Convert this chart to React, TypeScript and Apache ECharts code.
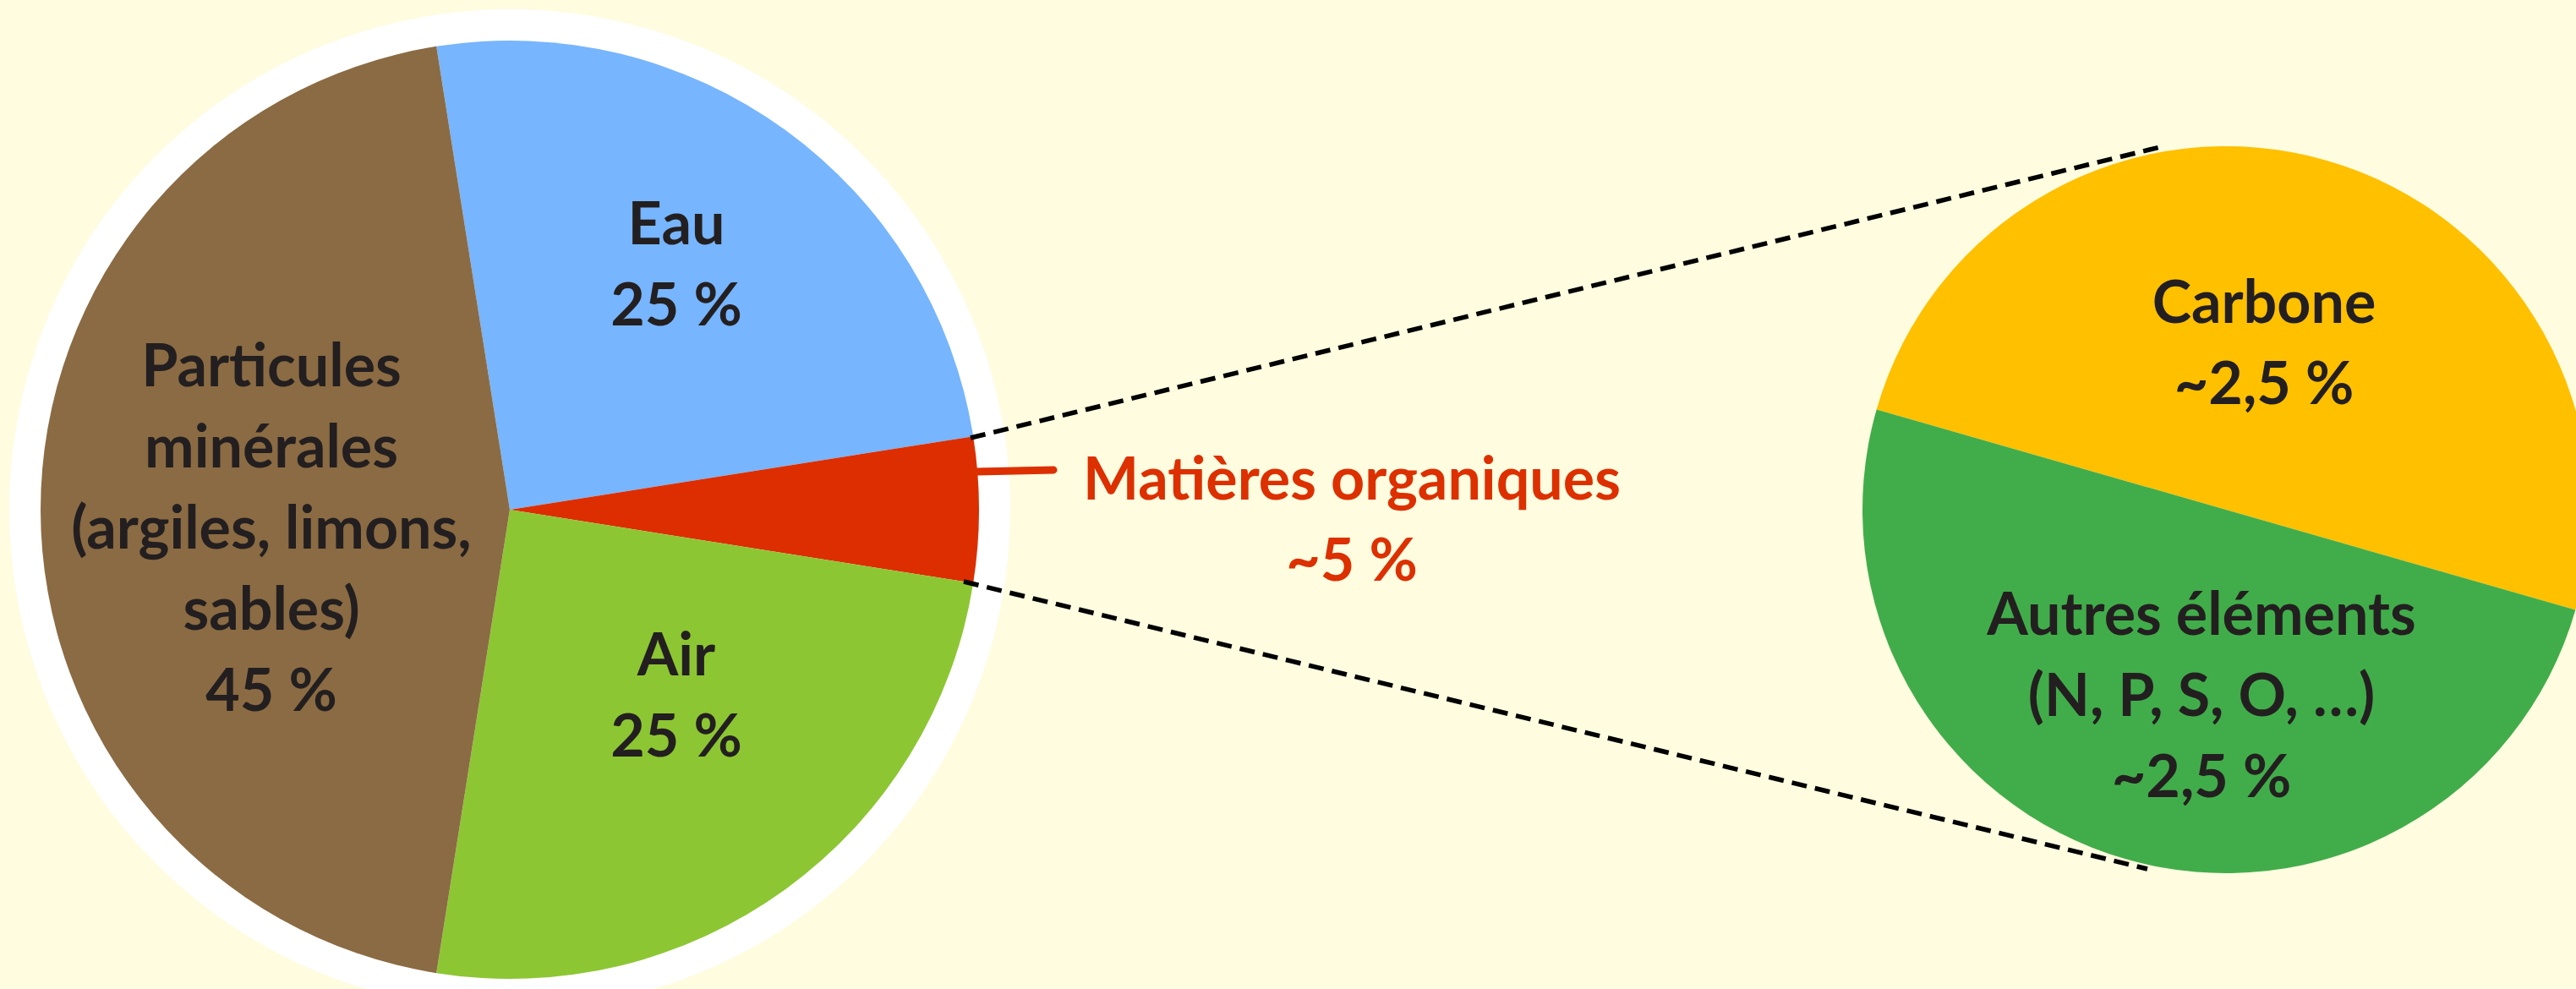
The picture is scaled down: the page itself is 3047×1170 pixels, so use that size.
import React, { useEffect, useRef } from "react";
import * as echarts from "echarts";

// ---- Data ----
const soilCategories = ["Eau", "Matières organiques", "Air", "Particules minérales (argiles, limons, sables)"];
const soilLabelNames = ["Eau", "Matières organiques", "Air", "Particules\nminérales\n(argiles, limons,\nsables)"];
const soilValues = [25, 5, 25, 45];
const soilApprox = [false, true, false, false];

const organicCategories = ["Carbone", "Autres éléments (N, P, S, O, …)"];
const organicLabelNames = ["Carbone", "Autres éléments\n(N, P, S, O, …)"];
const organicValues = [2.5, 2.5];
const organicApprox = [true, true];

// ---- Styles / layout ----
const soilColors = ["#77B5FE", "#DC2E00", "#8DC633", "#8B6B43"];
const organicColors = ["#FFC000", "#41AD4A"];
const soilLabelPos = [[800, 310], [1599, 612], [800, 820], [321, 622]];
const organicLabelPos = [[2678, 403], [2604, 820]];
const BG = "#FFFCDF";
const TEXT = "#231F20";
const FONT = "Lato";

const fmt = (v: number, approx: boolean) =>
  (approx ? "~" : "") + String(v).replace(".", ",") + " %";

export default function App() {
  const ref = useRef<HTMLDivElement>(null);
  useEffect(() => {
    if (!ref.current) return;
    const chart = echarts.init(ref.current, undefined, { renderer: "svg" });
    const labelBase = {
      show: true,
      position: "inside",
      fontFamily: FONT,
      fontWeight: "bold",
      fontSize: 70,
      lineHeight: 96,
      color: TEXT,
      align: "center",
      verticalAlign: "middle",
    };
    chart.setOption({
      animation: false,
      backgroundColor: BG,
      series: [
        {
          type: "pie",
          silent: true,
          z: 1,
          center: [603, 603],
          radius: [0, 592],
          label: { show: false },
          labelLine: { show: false },
          data: [{ value: 1, name: "ring", itemStyle: { color: "#FFFFFF" } }],
        },
        {
          type: "pie",
          z: 2,
          center: [603, 603],
          radius: [0, 555],
          startAngle: 99,
          clockwise: true,
          avoidLabelOverlap: false,
          labelLine: { show: false },
          label: labelBase,
          labelLayout: (p: any) => ({
            x: soilLabelPos[p.dataIndex][0],
            y: soilLabelPos[p.dataIndex][1],
            align: "center",
            verticalAlign: "middle",
          }),
          data: soilCategories.map((c, i) => ({
            name: c,
            value: soilValues[i],
            itemStyle: { color: soilColors[i] },
            label: {
              formatter: soilLabelNames[i] + "\n" + fmt(soilValues[i], soilApprox[i]),
              color: i === 1 ? "#DC3000" : TEXT,
            },
          })),
        },
        {
          type: "pie",
          z: 2,
          center: [2633, 603],
          radius: [0, 430],
          startAngle: 164,
          clockwise: true,
          avoidLabelOverlap: false,
          labelLine: { show: false },
          label: labelBase,
          labelLayout: (p: any) => ({
            x: organicLabelPos[p.dataIndex][0],
            y: organicLabelPos[p.dataIndex][1],
            align: "center",
            verticalAlign: "middle",
          }),
          data: organicCategories.map((c, i) => ({
            name: c,
            value: organicValues[i],
            itemStyle: { color: organicColors[i] },
            label: {
              formatter: organicLabelNames[i] + "\n" + fmt(organicValues[i], organicApprox[i]),
            },
          })),
        },
      ],
      graphic: [
        {
          type: "line",
          z: 10,
          shape: { x1: 1148, y1: 518, x2: 2555, y2: 174 },
          style: { stroke: "#000", lineWidth: 5.5, lineDash: [18, 10] },
        },
        {
          type: "line",
          z: 10,
          shape: { x1: 1140, y1: 688, x2: 2540, y2: 1028 },
          style: { stroke: "#000", lineWidth: 5.5, lineDash: [18, 10] },
        },
        {
          type: "line",
          z: 10,
          shape: { x1: 1155, y1: 558, x2: 1246, y2: 556 },
          style: { stroke: "#DC3000", lineWidth: 9, lineCap: "round" },
        },
      ],
    });
    return () => chart.dispose();
  }, []);
  return (
    <div
      ref={ref}
      style={{ position: "absolute", left: 0, top: 0, width: 3047, height: 1170 }}
    />
  );
}
